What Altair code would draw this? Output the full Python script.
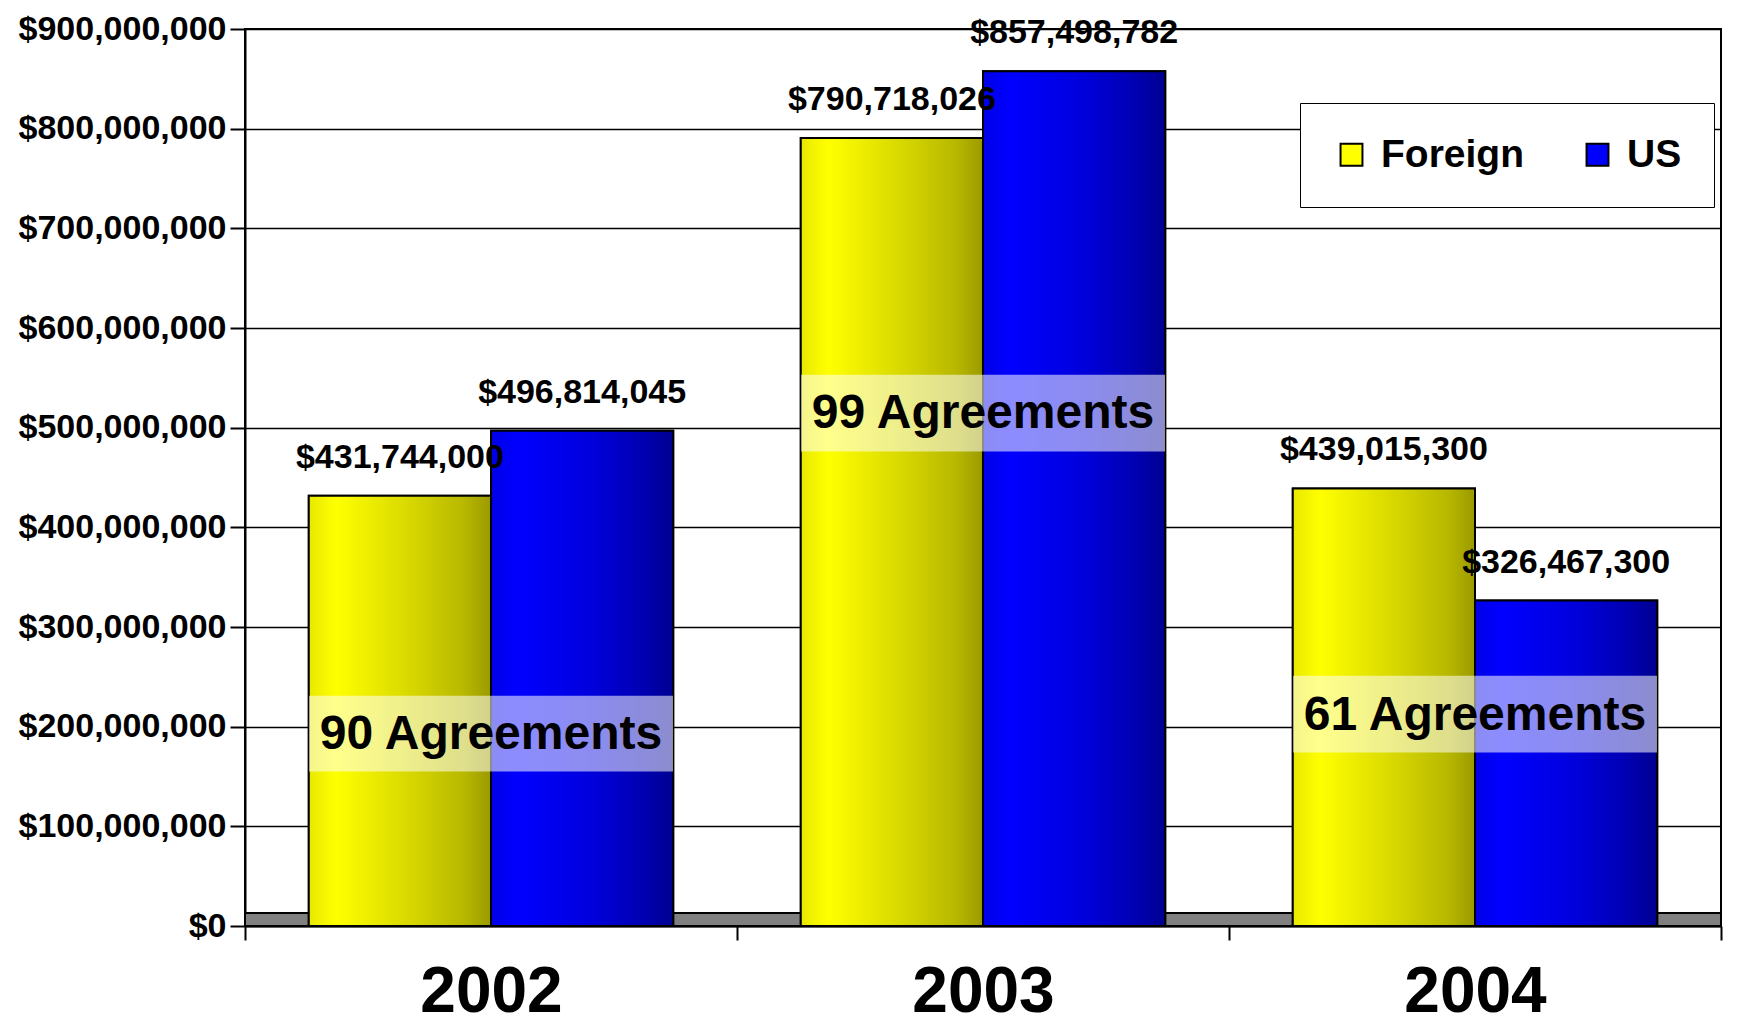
import altair as alt
import pandas as pd

years = ["2002", "2003", "2004"]
series = ["Foreign", "US"]
foreign_values = [431744000, 790718026, 439015300]
us_values = [496814045, 857498782, 326467300]
agreement_labels = ["90 Agreements", "99 Agreements", "61 Agreements"]
agreement_mid = [192e6, 514e6, 211e6]
agreement_lo = [155e6, 476e6, 174e6]
agreement_hi = [231e6, 553e6, 251e6]
y_ticks = [0, 100e6, 200e6, 300e6, 400e6, 500e6, 600e6, 700e6, 800e6, 900e6]
floor_depth = 13e6

FONT = "Liberation Sans"
W, H = 1476, 897

rows = []
for i, y in enumerate(years):
    rows.append({"year": y, "series": "Foreign", "value": foreign_values[i]})
    rows.append({"year": y, "series": "US", "value": us_values[i]})
bars_df = pd.DataFrame(rows)
ann_df = pd.DataFrame({"year": years, "label": agreement_labels,
                       "mid": agreement_mid, "lo": agreement_lo, "hi": agreement_hi})
floor_df = pd.DataFrame({"a": [0], "b": [floor_depth]})

x_enc = alt.X("year:N", sort=years, title=None,
              scale=alt.Scale(paddingInner=0, paddingOuter=0),
              axis=alt.Axis(labelFontSize=64, labelFont=FONT, labelFontWeight="bold",
                            labelColor="black", labelAngle=0, labelPadding=20,
                            tickBand="extent", tickSize=14, tickColor="black", tickWidth=2,
                            domainColor="black", domainWidth=2, grid=False))
xo_enc = alt.XOffset("series:N", sort=series,
                     scale=alt.Scale(domain=series, paddingOuter=0.35, paddingInner=0))
y_scale = alt.Scale(domain=[0, 900e6], nice=False)
y_enc = alt.Y("value:Q", scale=y_scale, title=None,
              axis=alt.Axis(values=y_ticks, format="$,.0f", labelFontSize=34, labelFont=FONT,
                            labelFontWeight="bold", labelColor="black", tickSize=15,
                            tickColor="black", tickWidth=2, domainColor="black", domainWidth=2,
                            grid=True, gridColor="black", gridWidth=1.5, labelPadding=4,
                            labelLimit=0))

floor = alt.Chart(floor_df).mark_rect(fill="#808080", stroke="black", strokeWidth=2).encode(
    x=alt.value(0), x2=alt.value(W),
    y=alt.Y("a:Q", scale=y_scale), y2="b:Q")

legend_bars = alt.Chart(bars_df).mark_bar(stroke="black", strokeWidth=2).encode(
    x=x_enc, xOffset=xo_enc, y=y_enc,
    color=alt.Color("series:N", sort=series,
                    scale=alt.Scale(domain=series, range=["#FFFF00", "#0000FF"]),
                    legend=alt.Legend(title=None, orient="none", legendX=1055, legendY=74,
                                      direction="horizontal", strokeColor="black",
                                      fillColor="white", padding=32, columnPadding=54,
                                      labelFontSize=39, labelFont=FONT, labelFontWeight="bold",
                                      labelColor="black", symbolType="square", symbolSize=480,
                                      symbolStrokeColor="black", symbolStrokeWidth=2,
                                      labelOffset=10)))

yellow_grad = alt.Gradient(gradient="linear", x1=0, x2=1, y1=0, y2=0, stops=[
    alt.GradientStop(offset=0, color="#e8e800"),
    alt.GradientStop(offset=0.15, color="#ffff00"),
    alt.GradientStop(offset=0.55, color="#d8d800"),
    alt.GradientStop(offset=0.85, color="#b8b800"),
    alt.GradientStop(offset=1, color="#9a9a00")])
blue_grad = alt.Gradient(gradient="linear", x1=0, x2=1, y1=0, y2=0, stops=[
    alt.GradientStop(offset=0, color="#0000e8"),
    alt.GradientStop(offset=0.15, color="#0000ff"),
    alt.GradientStop(offset=0.55, color="#0000dc"),
    alt.GradientStop(offset=0.85, color="#0000b0"),
    alt.GradientStop(offset=1, color="#000090")])

foreign_bars = alt.Chart(bars_df).transform_filter(alt.datum.series == "Foreign").mark_bar(
    fill=yellow_grad, stroke="black", strokeWidth=2).encode(x=x_enc, xOffset=xo_enc, y=y_enc)
us_bars = alt.Chart(bars_df).transform_filter(alt.datum.series == "US").mark_bar(
    fill=blue_grad, stroke="black", strokeWidth=2).encode(x=x_enc, xOffset=xo_enc, y=y_enc)

value_labels = alt.Chart(bars_df).mark_text(
    dy=-38, fontSize=34, font=FONT, fontWeight="bold", color="black").encode(
    x=x_enc, xOffset=xo_enc, y=y_enc, text=alt.Text("value:Q", format="$,.0f"))

ann_box = alt.Chart(ann_df).mark_bar(width=alt.RelativeBandSize(0.74), fill="white",
                                     opacity=0.55).encode(
    x=x_enc, y=alt.Y("lo:Q", scale=y_scale), y2="hi:Q")
ann_text = alt.Chart(ann_df).mark_text(fontSize=48, font=FONT, fontWeight="bold",
                                       color="black", baseline="middle").encode(
    x=x_enc, y=alt.Y("mid:Q", scale=y_scale), text="label:N")

chart = alt.layer(floor, legend_bars, foreign_bars, us_bars, value_labels, ann_box, ann_text).properties(
    width=W, height=H, padding={"left": 10, "top": 4, "right": 8, "bottom": 0},
    background="white"
).configure_view(stroke="black", strokeWidth=2)

chart.save("out.html", embed_options={"renderer": "svg", "actions": False})
